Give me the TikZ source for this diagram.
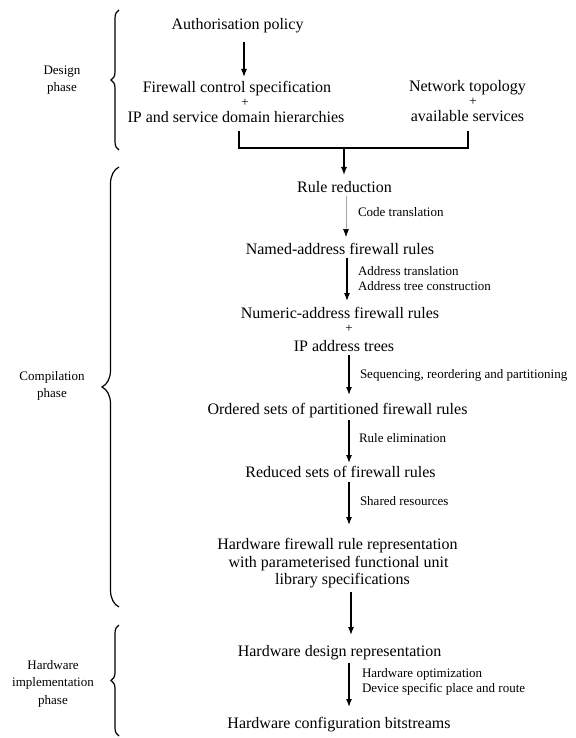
\documentclass[tikz,border=0pt]{standalone}
\usepackage{fontspec}
\setmainfont{Liberation Serif}
\usetikzlibrary{arrows.meta,decorations.pathreplacing,calc}
\begin{document}
\begin{tikzpicture}[x=1pt,y=-1pt,
  every node/.style={inner sep=0pt,outer sep=0pt},
  big/.style={font=\fontsize{16}{18}\selectfont,anchor=base,text height=11pt,text depth=3.5pt},
  plus/.style={font=\fontsize{13}{15}\selectfont,anchor=base},
  note/.style={font=\fontsize{13}{15}\selectfont,anchor=base west},
  phase/.style={font=\fontsize{13}{15}\selectfont,anchor=base},
  arr/.style={line width=1.2pt,-{Latex[length=8pt,width=6pt]}},
  faint/.style={line width=0.6pt,draw=black!35,-{Latex[length=8pt,width=6pt,color=black]}},
  link/.style={line width=1.3pt},
  bracex/.style={line width=1.2pt,decorate,decoration={brace,amplitude=#1}}]
\useasboundingbox (0,0) rectangle (575,738);

% design phase
\node[big] (auth) at (237.5,30) {Authorisation policy};
\node[big] (fw1) at (237,93) {Firewall control specification};
\node[plus] (p1) at (245,107) {+};
\node[big] (ip1) at (236,123) {IP and service domain hierarchies};
\node[big] (net1) at (467.5,92) {Network topology};
\node[plus] (p2) at (473,106) {+};
\node[big] (net2) at (467.5,122) {available services};

% compilation phase
\node[big] (rr) at (344.5,192) {Rule reduction};
\node[big] (named) at (340,254) {Named-address firewall rules};
\node[big] (numeric) at (340,318) {Numeric-address firewall rules};
\node[plus] (p3) at (349,332) {+};
\node[big] (iptrees) at (344,351) {IP address trees};
\node[big] (ordered) at (337.5,414) {Ordered sets of partitioned firewall rules};
\node[big] (reduced) at (340.5,477) {Reduced sets of firewall rules};
\node[big] (hw1) at (337.5,549) {Hardware firewall rule representation};
\node[big] (hw2) at (338.5,567) {with parameterised functional unit};
\node[big] (hw3) at (342.5,584) {library specifications};

% hardware implementation phase
\node[big] (hwd) at (339.5,656) {Hardware design representation};
\node[big] (hwc) at (339,728) {Hardware configuration bitstreams};

% transformation notes
\node[note] (n1) at (358,216) {Code translation};
\node[note] (n2) at (358,275) {Address translation};
\node[note] (n3) at (358,290) {Address tree construction};
\node[note] (n4) at (360,378) {Sequencing, reordering and partitioning};
\node[note] (n5) at (359,442) {Rule elimination};
\node[note] (n6) at (360,505) {Shared resources};
\node[note] (n7) at (362,677) {Hardware optimization};
\node[note] (n8) at (362,692) {Device specific place and route};

% phase labels
\node[phase] (d1) at (62,75) {Design};
\node[phase] (d2) at (62,92) {phase};
\node[phase] (c1) at (52,380) {Compilation};
\node[phase] (c2) at (52,397) {phase};
\node[phase] (h1) at (53,669) {Hardware};
\node[phase] (h2) at (53,686) {implementation};
\node[phase] (h3) at (53,704) {phase};

% phase braces
\draw[bracex=8pt] (119,150) -- (119,10);
\draw[bracex=17pt] (119,607) -- (119,167);
\draw[bracex=8pt] (119,736) -- (119,625);

% arrow columns
\coordinate (xa) at (244,0);
\coordinate (xb) at (346,0);
\coordinate (xc) at (347,0);
\coordinate (xd) at (349,0);
\coordinate (xe) at (351,0);
\coordinate (join) at (344,148);

% connectors
\draw[arr,shorten <=8.5pt,shorten >=5pt] (auth.south -| xa) -- (fw1.north -| xa);
\draw[link] ($(ip1.south)+(3,4.5)$) |- (join) -| ($(net2.south)+(0.5,5.5)$);
\draw[arr,shorten >=6pt] (join) -- (join |- rr.north);
\draw[faint,shorten <=0.5pt,shorten >=6pt] (rr.south -| xb) -- (named.north -| xb);
\draw[arr,shorten >=6pt] (named.south -| xc) -- (numeric.north -| xc);
\draw[arr,shorten >=8pt] (iptrees.south -| xd) -- (ordered.north -| xd);
\draw[arr,shorten <=2.5pt,shorten >=3pt] (ordered.south -| xd) -- (reduced.north -| xd);
\draw[arr,shorten <=1.5pt,shorten >=13pt] (reduced.south -| xd) -- (hw1.north -| xd);
\draw[arr,shorten <=4.5pt,shorten >=10pt] (hw3.south -| xe) -- (hwd.north -| xe);
\draw[arr,shorten <=3.5pt,shorten >=10pt] (hwd.south -| xd) -- (hwc.north -| xd);
\end{tikzpicture}
\end{document}
